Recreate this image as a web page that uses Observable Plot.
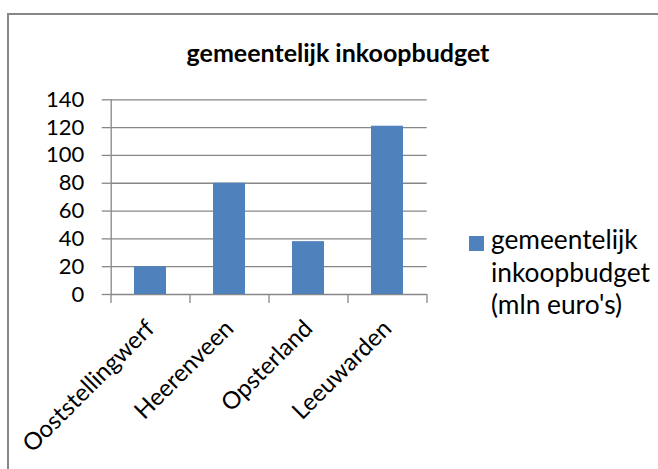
<!DOCTYPE html>
<html>
<head>
<meta charset="utf-8">
<script src="https://cdn.jsdelivr.net/npm/d3@7"></script>
<script src="https://cdn.jsdelivr.net/npm/@observablehq/plot@0.6"></script>
<style>
  html, body { margin: 0; padding: 0; background: #fff; }
  #wrap { position: relative; width: 658px; height: 469px; overflow: hidden; font-family: Lato, "Open Sans", sans-serif; color: #000; }
  #border { position: absolute; left: 6.5px; top: 12.5px; width: 800px; height: 600px; border-left: 2px solid #878787; border-top: 2px solid #878787; }
  #chart { position: absolute; left: 0; top: 0; }
  #title { position: absolute; left: 0; width: 676px; top: 40px; text-align: center; font-weight: bold; font-size: 25px; line-height: 25px; white-space: nowrap; }
  #legend-swatch { position: absolute; left: 469px; top: 236px; width: 15px; height: 15px; }
  #legend-text { position: absolute; left: 491px; top: 223px; font-size: 26.3px; line-height: 32.5px; }
</style>
</head>
<body>
<div id="wrap">
  <div id="border"></div>
  <div id="chart"></div>
  <div id="title"></div>
  <div id="legend-swatch"></div>
  <div id="legend-text"></div>
</div>
<script>
const categories = ["Ooststellingwerf", "Heerenveen", "Opsterland", "Leeuwarden"];
const values = [20, 80, 38, 121];
const yTicks = [0, 20, 40, 60, 80, 100, 120, 140];
const chartTitle = "gemeentelijk inkoopbudget";
const legendLines = ["gemeentelijk", "inkoopbudget", "(mln euro's)"];

const barColor = "#4F81BD";
const gridColor = "#878787";

const data = categories.map((c, i) => ({category: c, value: values[i]}));

const W = 658, H = 469, mL = 110.7, mR = 231.3, mT = 99.3, mB = 175;
const step = (W - mL - mR) / categories.length;

const plot = Plot.plot({
  width: W,
  height: H,
  marginLeft: mL,
  marginRight: mR,
  marginTop: mT,
  marginBottom: mB,
  style: {fontFamily: "Lato, 'Open Sans', sans-serif", background: "transparent", color: "#000", overflow: "visible"},
  x: {domain: categories, paddingInner: 0.6, paddingOuter: 0.3, label: null},
  y: {domain: [0, 140], label: null},
  marks: [
    Plot.ruleY(yTicks, {stroke: gridColor, strokeWidth: 1.3}),
    Plot.frame({anchor: "left", stroke: gridColor, strokeWidth: 1.3}),
    Plot.barY(data, {x: "category", y: "value", fill: barColor}),
    Plot.axisY({ticks: yTicks, tickSize: 9, tickPadding: 18, fontSize: 22, stroke: gridColor, strokeWidth: 1.3, label: null}),
    Plot.axisX({tickSize: 0, tickRotate: -45, tickPadding: 30, dx: 0, fontSize: 24, label: null}),
    Plot.axisX({tickSize: 9, tickFormat: () => "", dx: -step / 2, stroke: gridColor, strokeWidth: 1.3, label: null}),
    Plot.axisX({ticks: categories.slice(-1), tickSize: 9, tickFormat: () => "", dx: step / 2, stroke: gridColor, strokeWidth: 1.3, label: null})
  ]
});
document.getElementById("chart").appendChild(plot);
document.getElementById("title").textContent = chartTitle;
document.getElementById("legend-swatch").style.background = barColor;
document.getElementById("legend-text").innerHTML = legendLines.map(s => `<div>${s}</div>`).join("");
</script>
</body>
</html>
